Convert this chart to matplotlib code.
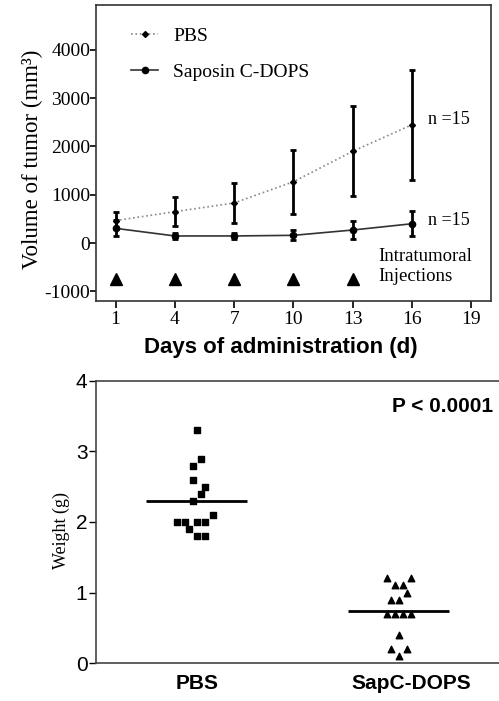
import matplotlib
matplotlib.use("Agg")
import matplotlib.pyplot as plt
import numpy as np

plt.rcParams["axes.unicode_minus"] = False

# tumour volume (mm^3) vs day
days = [1, 4, 7, 10, 13, 16]
pbs_mean = [465, 650, 830, 1270, 1900, 2450]
pbs_err = [175, 295, 410, 665, 930, 1140]
sap_mean = [305, 147, 147, 160, 270, 400]
sap_err = [165, 70, 70, 105, 185, 255]
injection_days = [1, 4, 7, 10, 13]
injection_level = -750

# tumour weight (g) at end point
groups = ["PBS", "SapC-DOPS"]
pbs_weight = [3.3, 2.9, 2.8, 2.6, 2.5, 2.4, 2.3, 2.1, 2.0, 2.0, 2.0, 2.0, 1.9, 1.8, 1.8]
pbs_jitter = [0, 1, -1, -1, 2, 1, -1, 4, -5, -3, 0, 2, -2, 0, 2]
sap_weight = [1.2, 1.2, 1.1, 1.1, 1.0, 0.9, 0.9, 0.7, 0.7, 0.7, 0.7, 0.4, 0.2, 0.2, 0.1]
sap_jitter = [-3, 3, -1, 1, 2, -2, 0, -3, -1, 1, 3, 0, -2, 2, 0]

serif = "Liberation Serif"
sans = "Liberation Sans"

fig = plt.figure(figsize=(4.99, 7.01), dpi=100)

# ---- top panel: growth curves
ax1 = fig.add_axes([0.192, 0.5706, 0.792, 0.4223])
ax1.plot(days, pbs_mean, linestyle=":", color="#888888", lw=1.2,
         marker="D", ms=3, mfc="black", mec="black", label="PBS")
ax1.plot(days, sap_mean, linestyle="-", color="#333333", lw=1.2,
         marker="o", ms=4.5, mfc="black", mec="black", label="Saposin C-DOPS")
ax1.errorbar(days, pbs_mean, yerr=pbs_err, fmt="none", ecolor="black",
             elinewidth=2, capsize=2.5, capthick=2)
ax1.errorbar(days, sap_mean, yerr=sap_err, fmt="none", ecolor="black",
             elinewidth=2, capsize=2.5, capthick=2)
ax1.plot(injection_days, [injection_level] * len(injection_days), linestyle="none",
         marker="^", ms=8, color="black")

ax1.set_xlim(0, 20)
ax1.set_ylim(-1200, 4930)
ax1.set_xticks([1, 4, 7, 10, 13, 16, 19])
ax1.set_yticks([-1000, 0, 1000, 2000, 3000, 4000])
for lab in ax1.get_xticklabels() + ax1.get_yticklabels():
    lab.set_fontfamily(serif)
    lab.set_fontsize(14)
ax1.tick_params(axis="y", direction="out", length=4, width=1.2, pad=0)
ax1.tick_params(axis="x", direction="out", length=5, width=1.2, pad=2)
for s in ax1.spines.values():
    s.set_linewidth(1.2)
    s.set_color("#333333")
ax1.set_ylabel("Volume of tumor (mm³)", family=serif, fontsize=16.5, labelpad=1,
               y=0.48)
ax1.set_xlabel("Days of administration (d)", family=sans, fontsize=16,
               fontweight="bold", labelpad=7, x=0.468)

ax1.text(16.8, 2560, "n =15", family=serif, fontsize=13, va="center")
ax1.text(16.8, 460, "n =15", family=serif, fontsize=13, va="center")
ax1.text(14.3, -490, "Intratumoral\nInjections", family=serif, fontsize=13.5,
         va="center", ha="left", linespacing=1.25)

leg = ax1.legend(loc="upper left", bbox_to_anchor=(0.045, 0.985), frameon=False,
                 prop={"family": serif, "size": 14}, handlelength=1.4,
                 handletextpad=0.75, labelspacing=0.95)

# ---- bottom panel: tumour weights
ax2 = fig.add_axes([0.192, 0.0542, 0.81, 0.4023])
step = 0.0198
ax2.scatter(0 + np.array(pbs_jitter) * step, pbs_weight, marker="s", s=20,
            color="black", zorder=3)
ax2.scatter(1 + np.array(sap_jitter) * step, sap_weight, marker="^", s=22,
            color="black", zorder=3)
ax2.hlines(np.mean(pbs_weight), -0.25, 0.25, color="black", lw=2, zorder=2)
ax2.hlines(np.mean(sap_weight), 0.75, 1.25, color="black", lw=2, zorder=2)

ax2.set_xlim(-0.5, 1.5)
ax2.set_ylim(0, 4)
ax2.set_yticks([0, 1, 2, 3, 4])
ax2.set_xticks([0, 1.06])
ax2.set_xticklabels(groups, family=sans, fontsize=15, fontweight="bold")
for lab in ax2.get_yticklabels():
    lab.set_fontfamily(sans)
    lab.set_fontsize(15)
ax2.tick_params(axis="x", length=0, pad=8)
ax2.tick_params(axis="y", direction="out", length=5, width=1, pad=1)
ax2.spines["right"].set_visible(False)
for s in ax2.spines.values():
    s.set_linewidth(1.2)
    s.set_color("#444444")
ax2.set_ylabel("Weight (g)", family=serif, fontsize=13, labelpad=4, y=0.47)
ax2.text(0.983, 0.908, "P < 0.0001", transform=ax2.transAxes, family=sans,
         fontsize=15, fontweight="bold", ha="right", va="center")

fig.savefig("out.png", dpi=100)
